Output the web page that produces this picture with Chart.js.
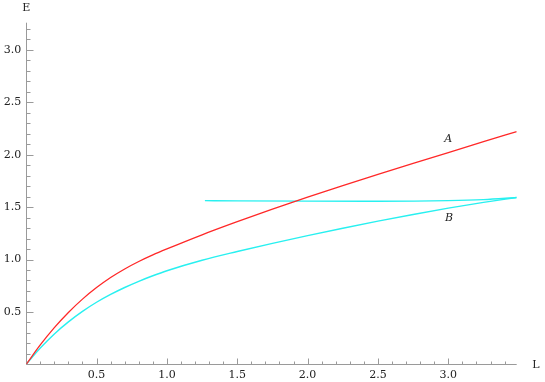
<!DOCTYPE html>
<html><head><meta charset="utf-8">
<script src="https://cdn.jsdelivr.net/npm/chart.js@4"></script>
<style>html,body{margin:0;padding:0;background:#fff}</style>
</head><body>
<canvas id="c" width="545" height="382"></canvas>
<script>
// Curve A (red)
const curveA_L = [0, 0.1, 0.2, 0.3, 0.4, 0.5, 0.6, 0.7, 0.8, 0.9, 1.0, 1.25, 1.5, 1.75, 2.0, 2.25, 2.5, 2.75, 3.0, 3.25, 3.486];
const curveA_E = [0, 0.185, 0.35, 0.495, 0.622, 0.732, 0.828, 0.91, 0.981, 1.044, 1.101, 1.236, 1.361, 1.481, 1.596, 1.706, 1.812, 1.917, 2.021, 2.124, 2.221];
// Curve B lower branch (cyan)
const curveB_L = [0, 0.1, 0.2, 0.3, 0.4, 0.5, 0.6, 0.7, 0.8, 0.9, 1.0, 1.25, 1.5, 1.75, 2.0, 2.25, 2.5, 2.75, 3.0, 3.25, 3.486];
const curveB_E = [0, 0.155, 0.29, 0.405, 0.505, 0.592, 0.667, 0.733, 0.792, 0.845, 0.893, 0.993, 1.076, 1.154, 1.228, 1.298, 1.366, 1.43, 1.49, 1.545, 1.592];
// Curve B upper branch (cyan, nearly flat)
const curveB2_L = [1.27, 1.5, 2.0, 2.5, 3.0, 3.25, 3.486];
const curveB2_E = [1.562, 1.56, 1.557, 1.556, 1.562, 1.572, 1.592];
// Axes
const xMin = 0, xMax = 3.486, yMin = 0, yMax = 3.26;
const xTickValues = [0.5, 1.0, 1.5, 2.0, 2.5, 3.0];
const xTickLabels = ['0.5', '1.0', '1.5', '2.0', '2.5', '3.0'];
const yTickValues = [0.5, 1.0, 1.5, 2.0, 2.5, 3.0];
const yTickLabels = ['0.5', '1.0', '1.5', '2.0', '2.5', '3.0'];
const xAxisTitle = 'L', yAxisTitle = 'E';
const curveLabels = [{text: 'A', L: 3.0, E: 2.148}, {text: 'B', L: 3.006, E: 1.395}];

const pts = (xs, ys) => xs.map((v, i) => ({x: v, y: ys[i]}));
const FONT = 'DejaVu Serif';

const axisPlugin = {
  id: 'axes',
  beforeDatasetsDraw(chart) {
    const {ctx, chartArea: a, scales: {x, y}} = chart;
    ctx.save();
    ctx.strokeStyle = '#9a9a9a';
    ctx.lineWidth = 1;
    ctx.beginPath();
    const x0 = Math.round(x.getPixelForValue(0)) + 0.5;
    const y0 = Math.round(y.getPixelForValue(0)) + 0.5;
    ctx.moveTo(a.left, y0); ctx.lineTo(a.right, y0);
    ctx.moveTo(x0, a.bottom); ctx.lineTo(x0, a.top);
    for (let i = 1; i / 10 <= xMax + 1e-9; i++) {
      const px = Math.round(x.getPixelForValue(i / 10)) + 0.5;
      const len = (i % 5 === 0) ? 6 : 3;
      ctx.moveTo(px, y0); ctx.lineTo(px, y0 - len);
    }
    for (let i = 1; i / 10 <= yMax + 1e-9; i++) {
      const py = Math.round(y.getPixelForValue(i / 10)) + 0.5;
      const len = (i % 5 === 0) ? 7 : 4;
      ctx.moveTo(x0, py); ctx.lineTo(x0 + len, py);
    }
    ctx.stroke();
    ctx.restore();
  },
  afterDraw(chart) {
    const {ctx, chartArea: a, scales: {x, y}} = chart;
    ctx.save();
    ctx.fillStyle = '#222';
    ctx.textAlign = 'center';
    ctx.textBaseline = 'middle';
    ctx.font = '11px "' + FONT + '"';
    ctx.fillText(yAxisTitle, a.left, 8);
    ctx.fillText(xAxisTitle, 536, y.getPixelForValue(0) + 1);
    ctx.font = 'italic 11px "' + FONT + '"';
    curveLabels.forEach(c => ctx.fillText(c.text, x.getPixelForValue(c.L), y.getPixelForValue(c.E)));
    ctx.restore();
  }
};

new Chart(document.getElementById('c'), {
  type: 'scatter',
  data: {
    datasets: [
      {data: pts(curveA_L, curveA_E), borderColor: 'rgb(255,40,40)', borderWidth: 1.3},
      {data: pts(curveB_L, curveB_E), borderColor: 'rgb(40,240,240)', borderWidth: 1.4},
      {data: pts(curveB2_L, curveB2_E), borderColor: 'rgb(40,240,240)', borderWidth: 1.4}
    ].map(d => Object.assign(d, {showLine: true, pointRadius: 0, fill: false, cubicInterpolationMode: 'monotone'}))
  },
  options: {
    responsive: false,
    animation: false,
    layout: {padding: {top: 22.7, right: 28.3, left: 0, bottom: 0}},
    plugins: {legend: {display: false}, tooltip: {enabled: false}},
    scales: {
      x: {
        type: 'linear', min: xMin, max: xMax,
        grid: {display: false, drawTicks: false}, border: {display: false},
        afterBuildTicks: s => { s.ticks = xTickValues.map(v => ({value: v})); },
        afterFit: s => { s.height = 17.7; },
        ticks: {padding: 4, maxRotation: 0, color: '#222', font: {family: FONT, size: 11},
          callback: v => xTickLabels[xTickValues.indexOf(v)]}
      },
      y: {
        type: 'linear', min: yMin, max: yMax,
        grid: {display: false, drawTicks: false}, border: {display: false},
        afterBuildTicks: s => { s.ticks = yTickValues.map(v => ({value: v})); },
        afterFit: s => { s.width = 26.2; },
        ticks: {padding: 5, color: '#222', font: {family: FONT, size: 11},
          callback: v => yTickLabels[yTickValues.indexOf(v)]}
      }
    }
  },
  plugins: [axisPlugin]
});
</script>
</body></html>
